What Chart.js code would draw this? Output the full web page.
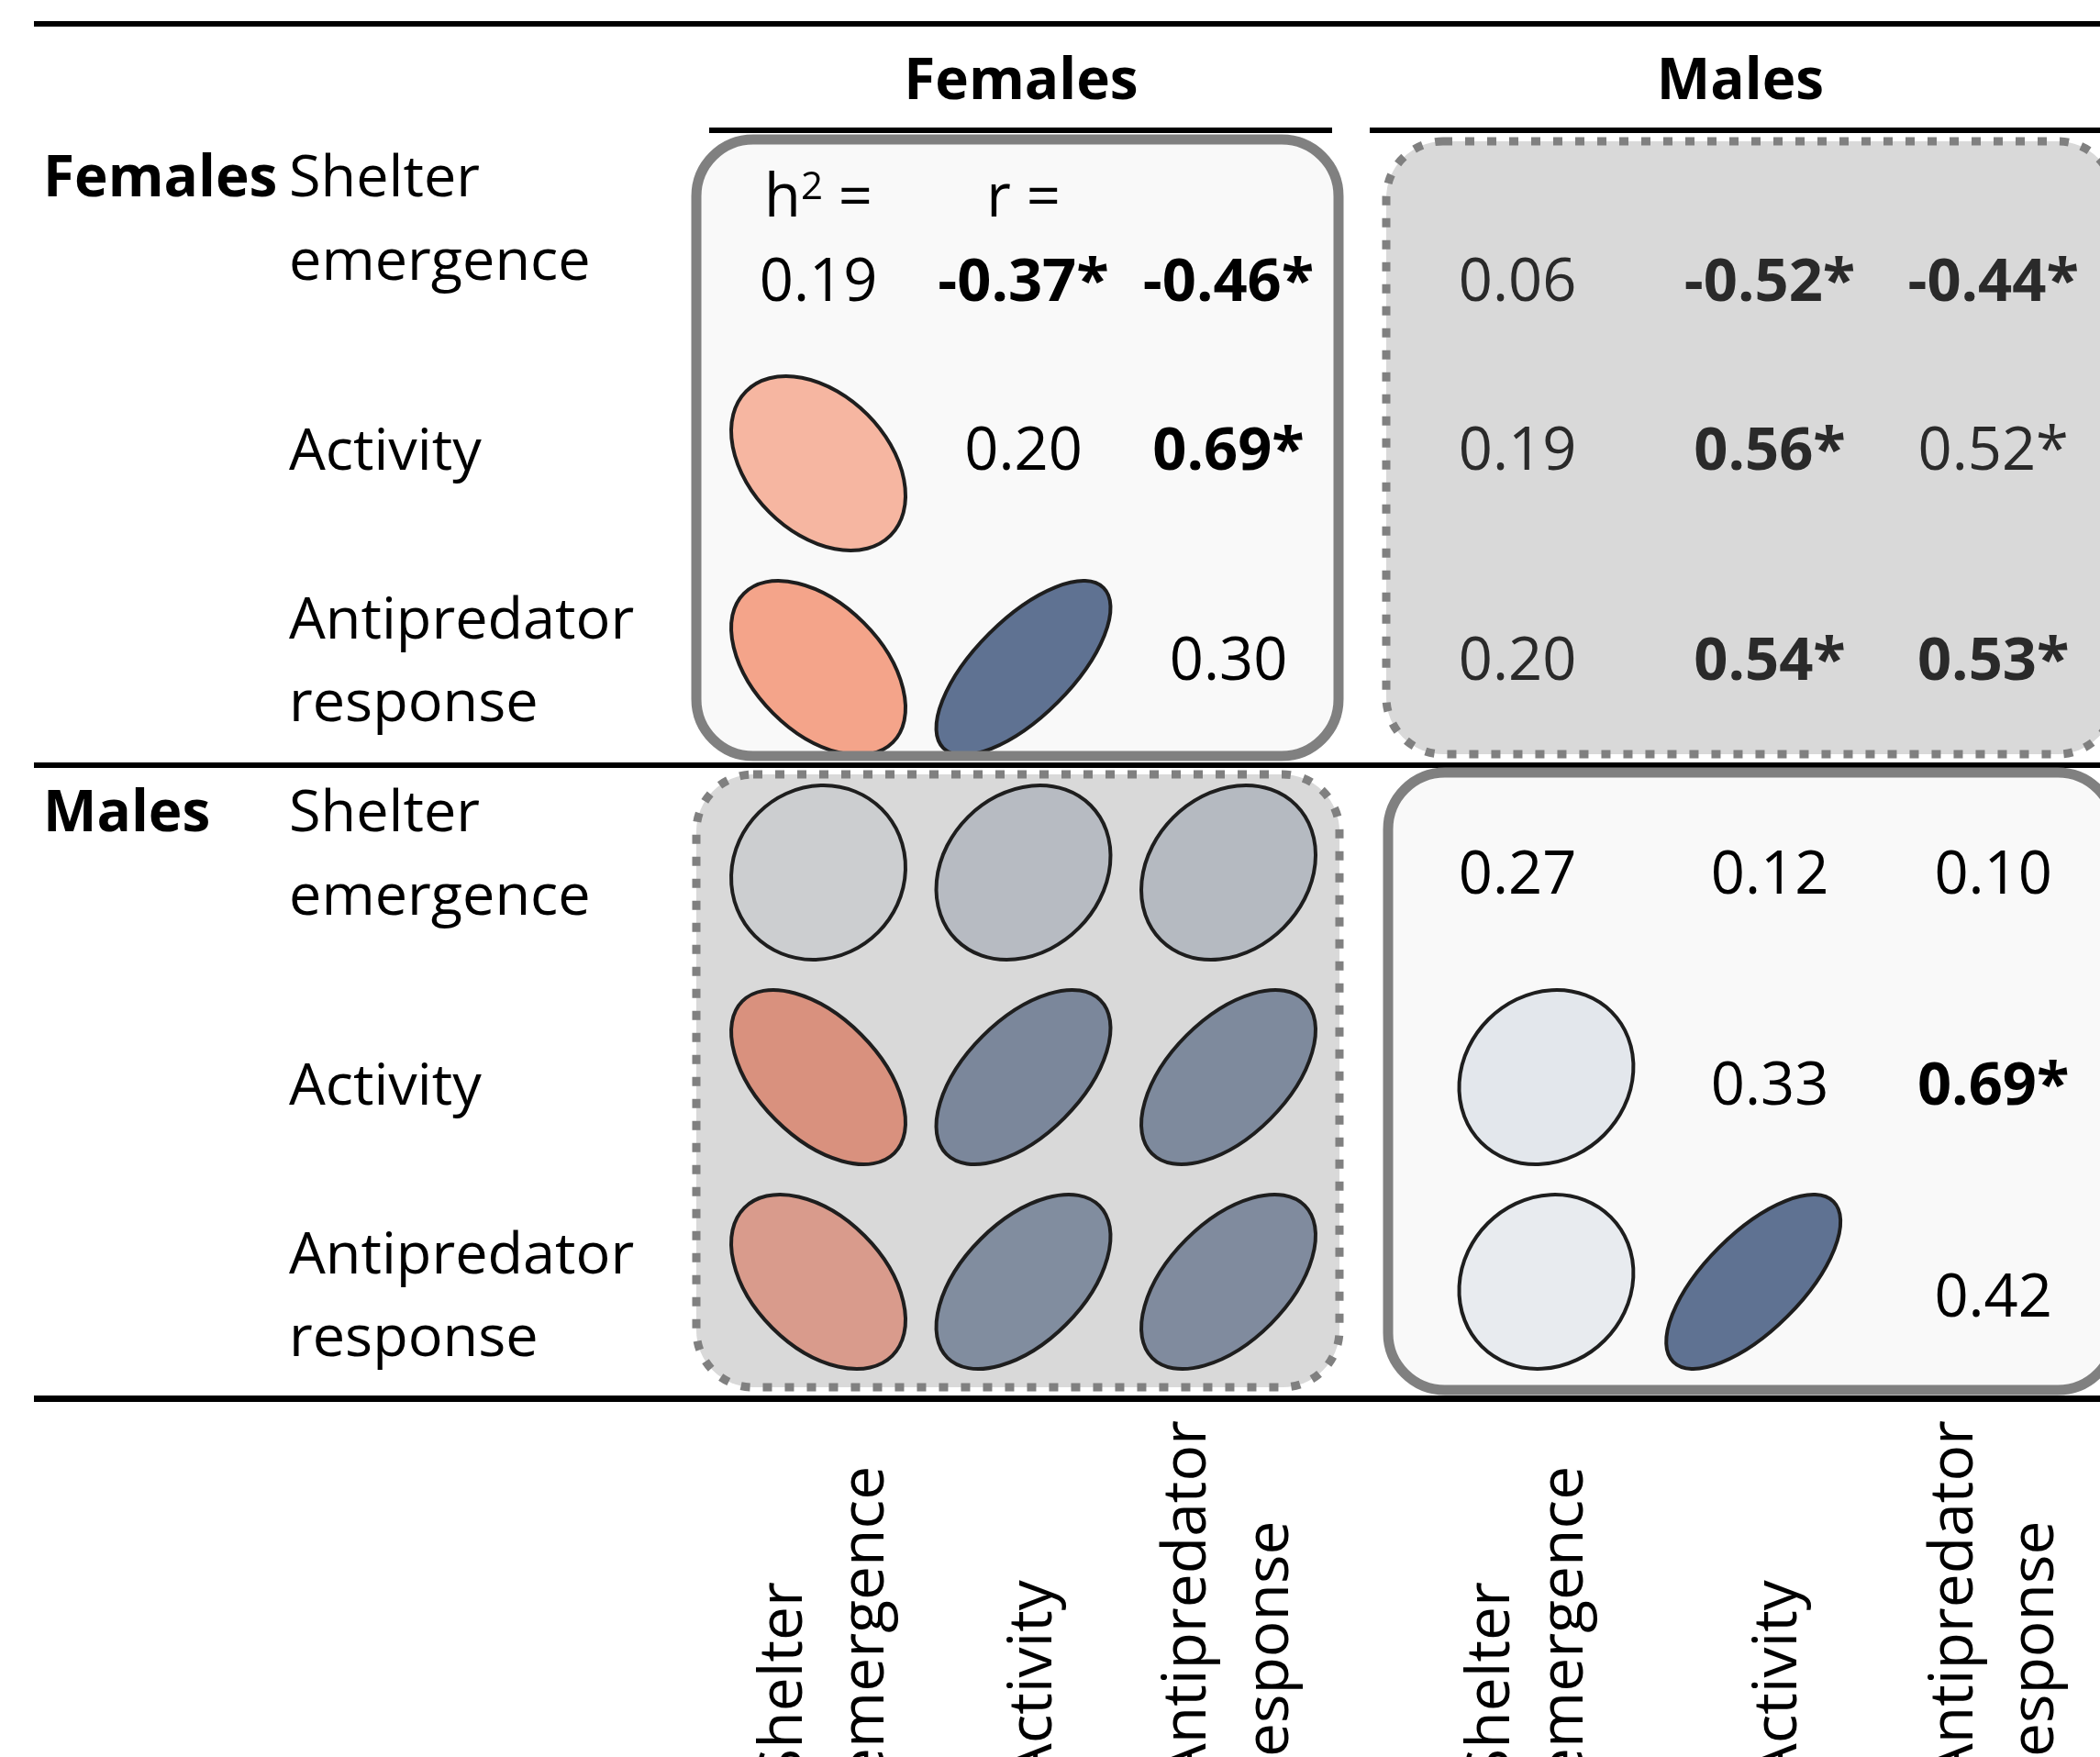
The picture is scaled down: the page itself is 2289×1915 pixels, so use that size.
<!DOCTYPE html>
<html>
<head>
<meta charset="utf-8">
<script src="https://cdn.jsdelivr.net/npm/chart.js@4.4.1/dist/chart.umd.min.js"></script>
<style>
  html, body { margin: 0; padding: 0; background: #fff; }
  canvas { display: block; }
</style>
</head>
<body>
<canvas id="chart" width="2289" height="1915"></canvas>
<script>
// ---- data ----
const sexes = ['Females', 'Males'];
const traits = [['Shelter', 'emergence'], ['Activity'], ['Antipredator', 'response']];
const h2Females = [0.19, 0.20, 0.30];
const h2Males = [0.27, 0.33, 0.42];
// within-sex correlations, pairs: shelter-activity, shelter-antipredator, activity-antipredator
const pairs = [[0, 1], [0, 2], [1, 2]];
const rFemales = [-0.37, -0.46, 0.69];
const rFemalesSig = [true, true, true];
const rMales = [0.12, 0.10, 0.69];
const rMalesSig = [false, false, true];
// cross-sex correlations: rows = female trait, cols = male trait
const rCross = [[0.06, -0.52, -0.44], [0.19, 0.56, 0.52], [0.20, 0.54, 0.53]];
const rCrossStar = [[false, true, true], [false, true, true], [false, true, true]];
const rCrossBold = [[false, true, true], [false, true, false], [false, true, true]];

// ---- layout (scale units) ----
const femaleCols = [0, 1, 2];
const maleEllipseCols = [3.55, 4.56, 5.57];
const maleTextCols = [3.41, 4.64, 5.73];
const textRows = [0.206, 1.031, 2.058, 3.103, 4.135, 5.170];

const LABEL_FONT = '"Open Sans", "Noto Sans", sans-serif';

function fmt(v) { return v.toFixed(2); }

// ellipse marks
const ellipsePoints = [];
pairs.forEach(([i, j], k) => {
  ellipsePoints.push({ x: femaleCols[i], y: j, corr: rFemales[k], cross: false });
  ellipsePoints.push({ x: maleEllipseCols[i], y: 3 + j, corr: rMales[k], cross: false });
});
for (let m = 0; m < 3; m++) {
  for (let f = 0; f < 3; f++) {
    ellipsePoints.push({ x: femaleCols[f], y: 3 + m, corr: rCross[f][m], cross: true });
  }
}

// number marks
const textPoints = [];
for (let i = 0; i < 3; i++) {
  textPoints.push({ x: femaleCols[i], y: textRows[i], txt: fmt(h2Females[i]), bold: false, cross: false });
  textPoints.push({ x: maleTextCols[i], y: textRows[3 + i], txt: fmt(h2Males[i]), bold: false, cross: false });
}
pairs.forEach(([i, j], k) => {
  textPoints.push({ x: femaleCols[j], y: textRows[i], txt: fmt(rFemales[k]) + (rFemalesSig[k] ? '*' : ''), bold: rFemalesSig[k], cross: false });
  textPoints.push({ x: maleTextCols[j], y: textRows[3 + i], txt: fmt(rMales[k]) + (rMalesSig[k] ? '*' : ''), bold: rMalesSig[k], cross: false });
});
for (let f = 0; f < 3; f++) {
  for (let m = 0; m < 3; m++) {
    textPoints.push({ x: maleTextCols[m], y: textRows[f], txt: fmt(rCross[f][m]) + (rCrossStar[f][m] ? '*' : ''), bold: rCrossBold[f][m], cross: true });
  }
}

function mix(a, b, t) {
  return 'rgb(' + a.map((c, i) => Math.round(c * (1 - t) + b[i] * t)).join(',') + ')';
}
function ellipseFill(r, cross) {
  const base = cross ? [214, 214, 214] : [255, 255, 255];
  let end;
  if (r >= 0) end = cross ? [51, 73, 109] : [23, 51, 97];
  else end = cross ? [220, 81, 45] : [231, 58, 1];
  return mix(base, end, Math.abs(r));
}

function roundRect(ctx, x0, y0, x1, y1, rad) {
  ctx.beginPath();
  ctx.moveTo(x0 + rad, y0);
  ctx.lineTo(x1 - rad, y0);
  ctx.arcTo(x1, y0, x1, y0 + rad, rad);
  ctx.lineTo(x1, y1 - rad);
  ctx.arcTo(x1, y1, x1 - rad, y1, rad);
  ctx.lineTo(x0 + rad, y1);
  ctx.arcTo(x0, y1, x0, y1 - rad, rad);
  ctx.lineTo(x0, y0 + rad);
  ctx.arcTo(x0, y0, x0 + rad, y0, rad);
  ctx.closePath();
}

// boxes in pixels (stroke centre line)
const boxes = [
  { x0: 759, y0: 152, x1: 1459, y1: 824, dashed: false },
  { x0: 1511, y0: 154, x1: 2305, y1: 822, dashed: true },
  { x0: 759, y0: 844, x1: 1460, y1: 1512, dashed: true },
  { x0: 1513, y0: 842, x1: 2305, y1: 1515, dashed: false }
];

const layoutPlugin = {
  id: 'layout',
  beforeDatasetsDraw(chart) {
    const ctx = chart.ctx;
    ctx.save();
    boxes.forEach(b => {
      roundRect(ctx, b.x0, b.y0, b.x1, b.y1, 62);
      ctx.fillStyle = b.dashed ? '#d9d9d9' : '#f9f9f9';
      ctx.fill();
    });
    // horizontal rules
    ctx.fillStyle = '#000';
    ctx.fillRect(37, 23, 2289 - 37, 6);
    ctx.fillRect(37, 831, 2289 - 37, 6);
    ctx.fillRect(37, 1521, 2289 - 37, 7);
    ctx.fillRect(773, 139, 1452 - 773, 6);
    ctx.fillRect(1493, 139, 2289 - 1493, 6);
    ctx.restore();
  },
  afterDatasetsDraw(chart) {
    const ctx = chart.ctx;
    const xs = chart.scales.x;
    const s = 0.425 * (xs.getPixelForValue(1) - xs.getPixelForValue(0));
    ctx.save();
    // ellipses
    const em = chart.getDatasetMeta(0);
    em.data.forEach((el, i) => {
      const p = chart.data.datasets[0].data[i];
      const d = Math.acos(p.corr);
      ctx.beginPath();
      ctx.ellipse(el.x, el.y, Math.SQRT2 * s * Math.cos(d / 2), Math.SQRT2 * s * Math.sin(d / 2), -Math.PI / 4, 0, 2 * Math.PI);
      ctx.fillStyle = ellipseFill(p.corr, p.cross);
      ctx.fill();
      ctx.lineWidth = 4;
      ctx.strokeStyle = '#1e1e1e';
      ctx.stroke();
    });
    // box borders
    boxes.forEach(b => {
      roundRect(ctx, b.x0, b.y0, b.x1, b.y1, 62);
      ctx.lineWidth = b.dashed ? 9 : 11;
      ctx.strokeStyle = '#808080';
      ctx.setLineDash(b.dashed ? [10, 14] : []);
      ctx.stroke();
    });
    ctx.setLineDash([]);

    // numbers
    const tm = chart.getDatasetMeta(1);
    ctx.textAlign = 'center';
    ctx.textBaseline = 'alphabetic';
    tm.data.forEach((el, i) => {
      const p = chart.data.datasets[1].data[i];
      ctx.font = (p.bold ? 'bold ' : '') + '65px ' + LABEL_FONT;
      ctx.fillStyle = p.cross ? '#2a2a2a' : '#000';
      ctx.fillText(p.txt, el.x, el.y);
    });

    // h2 = and r = headers
    const hy = 236;
    ctx.fillStyle = '#000';
    ctx.textAlign = 'left';
    ctx.font = '65px ' + LABEL_FONT;
    const wh = ctx.measureText('h').width;
    const weq = ctx.measureText(' =').width;
    ctx.font = '42px ' + LABEL_FONT;
    const w2 = ctx.measureText('2').width;
    let hx = xs.getPixelForValue(femaleCols[0]) - (wh + w2 + weq) / 2;
    ctx.font = '65px ' + LABEL_FONT;
    ctx.fillText('h', hx, hy);
    ctx.font = '42px ' + LABEL_FONT;
    ctx.fillText('2', hx + wh, hy - 19);
    ctx.font = '65px ' + LABEL_FONT;
    ctx.fillText(' =', hx + wh + w2, hy);
    ctx.textAlign = 'center';
    ctx.fillText('r =', xs.getPixelForValue(femaleCols[1]), hy);

    // column headers
    ctx.font = 'bold 62px ' + LABEL_FONT;
    ctx.fillText(sexes[0], 1113, 108);
    ctx.fillText(sexes[1], 1897, 108);

    // row labels
    ctx.textAlign = 'left';
    const labelBase = [[214, 305], [512], [696, 786]];
    for (let sx = 0; sx < 2; sx++) {
      const off = sx * 692;
      ctx.font = 'bold 62px ' + LABEL_FONT;
      ctx.fillText(sexes[sx], 47, 214 + off);
      ctx.font = '63px ' + LABEL_FONT;
      traits.forEach((lines, t) => {
        lines.forEach((ln, li) => ctx.fillText(ln, 315, labelBase[t][li] + off));
      });
    }

    // rotated column labels (run off the bottom edge as in the original)
    const colBase = [[874, 963], [1146], [1314, 1404], [1645, 1725], [1958], [2150, 2238]];
    ctx.font = '66px ' + LABEL_FONT;
    for (let sx = 0; sx < 2; sx++) {
      traits.forEach((lines, t) => {
        lines.forEach((ln, li) => {
          ctx.save();
          ctx.translate(colBase[sx * 3 + t][li], 1942);
          ctx.rotate(-Math.PI / 2);
          ctx.fillText(ln, 0, 0);
          ctx.restore();
        });
      });
    }
    ctx.restore();
  }
};

new Chart(document.getElementById('chart'), {
  type: 'scatter',
  data: {
    datasets: [
      { label: 'correlations', data: ellipsePoints, pointRadius: 0, pointHoverRadius: 0 },
      { label: 'values', data: textPoints, pointRadius: 0, pointHoverRadius: 0 }
    ]
  },
  options: {
    responsive: false,
    animation: false,
    events: [],
    layout: { padding: 0 },
    plugins: { legend: { display: false }, tooltip: { enabled: false } },
    scales: {
      x: { type: 'linear', min: -3.9911, max: 6.2505, display: false },
      y: { type: 'linear', min: -1.2646, max: 7.3229, reverse: true, display: false }
    }
  },
  plugins: [layoutPlugin]
});
</script>
</body>
</html>
